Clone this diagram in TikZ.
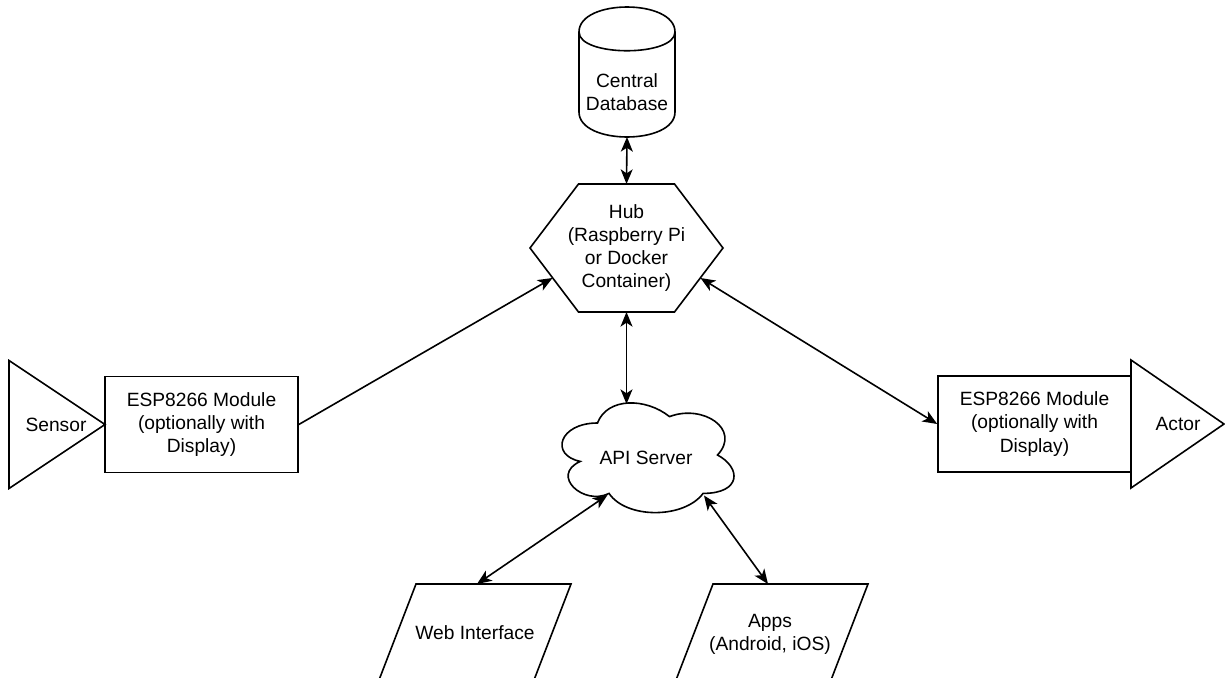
\documentclass[tikz,border=0pt]{standalone}
\usepackage{fontspec}
\setmainfont{Liberation Sans}
\usetikzlibrary{arrows.meta}
\begin{document}
\begin{tikzpicture}[x=0.75pt,y=0.75pt,yscale=-1,
    shapeline/.style={draw={rgb, 255:red, 0; green, 0; blue, 0}, line width=1.2pt},
    nodetext/.style={font=\fontsize{14.4}{17.3}\selectfont, align=center, inner sep=0pt},
    espbox/.style={shapeline, nodetext, minimum width=144.75pt, minimum height=72pt},
    link/.style={line width=1.2pt, -{Stealth[length=11pt,width=9pt,inset=3pt]}},
    twoway/.style={line width=1.2pt, {Stealth[length=11pt,width=9pt,inset=3pt]}-{Stealth[length=11pt,width=9pt,inset=3pt]}}]
\useasboundingbox (0,0) rectangle (1225,678);
%Shape: Can [id:db]
\draw [shapeline] (579,32) .. controls (579,-1.33) and (675,-1.33) .. (675,32) -- (675,112) .. controls (675,145.33) and (579,145.33) .. (579,112) -- cycle ;
\draw [shapeline] (579,32) .. controls (579,57) and (675,57) .. (675,32) ;
% Text Node
\node [nodetext] (db) at (627,92.5) {Central\\Database};
\coordinate (dbS) at (627,137);
%Shape: Hexagon [id:hub]
\draw [shapeline] (578.5,184) -- (674.5,184) -- (723,248) -- (674.5,312) -- (578.5,312) -- (530,248) -- cycle ;
% Text Node
\node [nodetext] (hub) at (626.5,248) {Hub\\(Raspberry Pi\\or Docker\\Container)};
\coordinate (hubN) at (626.5,184);
\coordinate (hubS) at (626.5,312);
\coordinate (hubSW) at (552.5,278);
\coordinate (hubSE) at (700.5,278);
%Shape: Triangle [id:sensor]
\draw [shapeline] (9,360.5) -- (105,424.5) -- (9,488.5) -- cycle ;
% Text Node
\node [nodetext] (sensor) at (56,424.5) {Sensor};
%Shape: Rectangle [id:espL]
\node [espbox] (espL) at (201.5,424.5) {ESP8266 Module\\(optionally with\\Display)};
%Shape: Rectangle [id:espR]
\node [espbox] (espR) at (1034.5,424) {ESP8266 Module\\(optionally with\\Display)};
%Shape: Triangle [id:actor]
\draw [shapeline] (1131,360) -- (1224,424) -- (1131,488) -- cycle ;
% Text Node
\node [nodetext] (actor) at (1178,424) {Actor};
%Shape: Cloud [id:api]
\draw [shapeline] (597.5,423) .. controls (559.1,423) and (549.5,455) .. (580.22,461.4) .. controls (549.5,475.48) and (584.06,506.2) .. (609.02,493.4) .. controls (626.3,519) and (683.9,519) .. (703.1,493.4) .. controls (741.5,493.4) and (741.5,467.8) .. (717.5,455) .. controls (741.5,429.4) and (703.1,403.8) .. (669.5,416.6) .. controls (645.5,397.4) and (607.1,397.4) .. (597.5,423) -- cycle ;
% Text Node
\node [nodetext] (api) at (646,457.5) {API Server};
\coordinate (apiN) at (626.5,404);
\coordinate (apiSW) at (607.5,495);
\coordinate (apiSE) at (704,495.5);
%Shape: Parallelogram [id:web]
\draw [shapeline] (416,584) -- (571,584) -- (534,680) -- (379,680) -- cycle ;
% Text Node
\node [nodetext] (web) at (475,633) {Web Interface};
\coordinate (webN) at (477,584);
%Shape: Parallelogram [id:apps]
\draw [shapeline] (713,584) -- (868,584) -- (831,680) -- (676,680) -- cycle ;
% Text Node
\node [nodetext] (apps) at (770,634) {Apps\\(Android, iOS)};
\coordinate (appsN) at (768,584);
%Straight Lines
\draw [twoway] (dbS) -- (hubN) ;
\draw [link] (espL.east) -- (hubSW) ;
\draw [twoway] (hubSE) -- (espR.west) ;
\draw [twoway] (hubS) -- (apiN) ;
\draw [twoway] (apiSW) -- (webN) ;
\draw [twoway] (apiSE) -- (appsN) ;
\end{tikzpicture}
\end{document}
